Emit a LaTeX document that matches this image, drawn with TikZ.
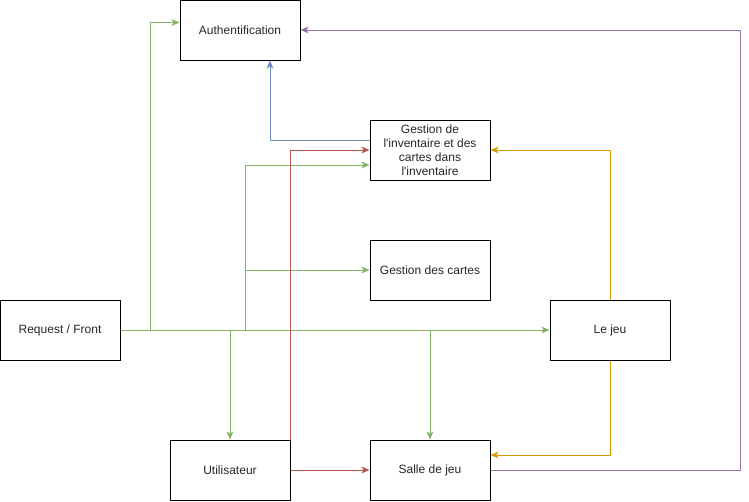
\documentclass[tikz,border=0pt]{standalone}
\usepackage{fontspec}
\setmainfont{Liberation Sans}
\usetikzlibrary{arrows.meta}
\definecolor{vert}{RGB}{130,179,102}
\definecolor{bleu}{RGB}{108,142,191}
\definecolor{rouge}{RGB}{184,84,80}
\definecolor{orange}{RGB}{215,155,0}
\definecolor{violet}{RGB}{150,115,166}
\tikzset{
  box/.style={draw, line width=0.75pt, minimum width=90pt, minimum height=45pt, align=center, font=\fontsize{9}{10.5}\selectfont, text=black!85},
  link/.style={line width=0.75pt, -{Stealth[length=6pt,width=5pt,inset=1.5pt]}},
}
\begin{document}
\begin{tikzpicture}[x=0.75pt,y=0.75pt,yscale=-1,xscale=1]
\useasboundingbox (0,0) rectangle (749,501);

% Boxes
\node (auth) [box] at (240,30) {Authentification};
\node (gest) [box] at (430,150) {Gestion de\\l\textquotesingle inventaire et des\\cartes dans\\l\textquotesingle inventaire};
\node (cartes) [box] at (430,270) {Gestion des cartes};
\node (req) [box] at (60,330) {Request / Front};
\node (jeu) [box] at (610,330) {Le jeu};
\node (util) [box] at (230,470) {Utilisateur};
\node (salle) [box] at (430,470) {Salle de jeu};

% Branch points
\coordinate (b1) at (150,330);
\coordinate (b2) at (245,330);
\coordinate (b3) at (245,270);
\coordinate (b4) at (230,330);
\coordinate (b5) at (430,330);
\coordinate (p1) at (740,470);

% Green links
\draw [link, vert] (req.east) -- (jeu.west);
\draw [link, vert] (b1) |- ([yshift=-5.6pt]auth.west);
\draw [link, vert] (b2) |- ([yshift=11.25pt]gest.west);
\draw [link, vert] (b3) -- (cartes.west);
\draw [link, vert] (b4) -- (util.north);
\draw [link, vert] (b5) -- (salle.north);

% Blue link
\draw [link, bleu] ([yshift=-7.5pt]gest.west) -| ([xshift=22.5pt]auth.south);

% Red links
\draw [link, rouge] (util.north east) |- (gest.west);
\draw [link, rouge] (util.east) -- (salle.west);

% Orange links
\draw [link, orange] (jeu.north) |- (gest.east);
\draw [link, orange] (jeu.south) |- ([yshift=-11.25pt]salle.east);

% Purple link
\draw [link, violet] (salle.east) -- (p1) |- (auth.east);

\end{tikzpicture}
\end{document}
